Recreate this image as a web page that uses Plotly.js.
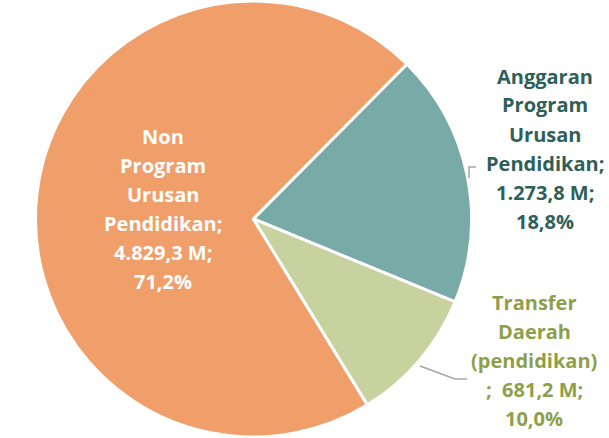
<!DOCTYPE html>
<html>
<head>
<meta charset="utf-8">
<script src="https://cdn.plot.ly/plotly-3.0.1.min.js"></script>
<style>html,body{margin:0;padding:0;background:#fff;}#chart{width:609px;height:438px;}</style>
</head>
<body>
<div id="chart"></div>
<script>
// Data
const categories = ["Non Program Urusan Pendidikan", "Anggaran Program Urusan Pendidikan", "Transfer Daerah (pendidikan)"];
const values = [4829.3, 1273.8, 681.2];
const valueLabels = ["4.829,3 M", "1.273,8 M", "681,2 M"];
const percentLabels = ["71,2%", "18,8%", "10,0%"];
const labelLines = [
  ["Non", "Program", "Urusan", "Pendidikan;"],
  ["Anggaran", "Program", "Urusan", "Pendidikan;"],
  ["Transfer", "Daerah", "(pendidikan)"]
];

const colors = ["#F09E6A", "#78ABA7", "#C8D29F"];
const textColors = ["#FFFFFF", "#2F5F5A", "#8E9F4B"];

const W = 609, H = 438;
const px = x => x / W;
const py = y => 1 - y / H;

// label positions (pixel centres) and line spacing
const labelPos = [[163, 209], [545, 148.5], [534, 360.5]];
const lineGap = 29;

const annotations = [];
categories.forEach((c, i) => {
  let lines = labelLines[i].slice();
  if (i === 2) {
    lines.push(";  " + valueLabels[i] + ";");
  } else {
    lines.push(valueLabels[i] + ";");
  }
  lines.push(percentLabels[i]);
  const n = lines.length;
  lines.forEach((l, k) => {
    const yc = labelPos[i][1] + (k - (n - 1) / 2) * lineGap;
    annotations.push({
      xref: "paper", yref: "paper",
      x: px(labelPos[i][0]), y: py(yc),
      xanchor: "center", yanchor: "middle",
      text: l,
      showarrow: false,
      align: "center",
      font: {family: "'Open Sans', sans-serif", size: 20, color: textColors[i], weight: "bold"}
    });
  });
});

const shapes = [
  {type: "path", xref: "paper", yref: "paper",
   path: "M " + px(469) + "," + py(178) + " L " + px(469) + "," + py(167) + " L " + px(476) + "," + py(167),
   line: {color: "#A6A6A6", width: 1.5}},
  {type: "path", xref: "paper", yref: "paper",
   path: "M " + px(420) + "," + py(366) + " L " + px(455) + "," + py(379) + " L " + px(467) + "," + py(379),
   line: {color: "#A6A6A6", width: 1.5}}
];

const trace = {
  type: "pie",
  labels: categories,
  values: values,
  sort: false,
  direction: "clockwise",
  rotation: 148.5,
  textinfo: "none",
  hoverinfo: "label+value+percent",
  marker: {colors: colors, line: {color: "#FFFFFF", width: 3}},
  domain: {x: [px(35.5), px(471.5)], y: [py(437), py(1)]},
  showlegend: false
};

Plotly.newPlot("chart", [trace], {
  width: W, height: H,
  margin: {l: 0, r: 0, t: 0, b: 0},
  paper_bgcolor: "#FFFFFF",
  showlegend: false,
  annotations: annotations,
  shapes: shapes
}, {displayModeBar: false, staticPlot: true});
</script>
</body>
</html>
